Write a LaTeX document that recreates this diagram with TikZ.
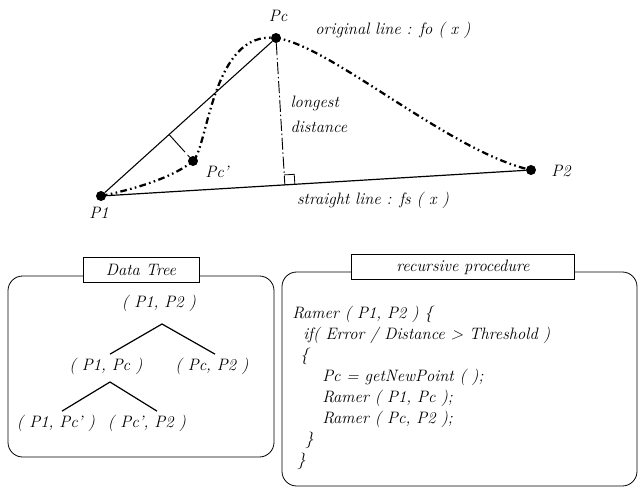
\documentclass[tikz,border=0pt]{standalone}
\usepackage{tikz}
\usetikzlibrary{positioning,calc}

\begin{document}
\begin{tikzpicture}[x=0.75pt, y=-0.75pt,
    every node/.style={font=\fontsize{12.4}{14}\selectfont\itshape},
    pt/.style={circle, fill=black, inner sep=0pt, minimum size=7.5pt},
    lbl/.style={inner sep=1pt},
    curve/.style={line width=1.7pt, dash pattern=on 5pt off 2.5pt on 1.2pt off 2.5pt on 1.2pt off 2.5pt},
    perp/.style={line width=0.7pt, dash pattern=on 9pt off 2pt on 1.2pt off 2pt},
    panel/.style={draw, line width=0.6pt, rounded corners=11pt},
    title/.style={draw, fill=white, line width=0.6pt, minimum height=19pt, inner sep=2pt},
    tnode/.style={inner sep=1pt},
    branch/.style={line width=0.9pt},
    code/.style={anchor=base west, inner sep=0pt},
]
\useasboundingbox (0,0) rectangle (640,490);

% curve points
\node[pt] (P1) at (101,196) {};
\node[pt] (Pc) at (276,38) {};
\node[pt] (P2) at (531,170) {};
\node[pt] (Pcc) at (193,161) {};

\node[lbl] (lP1) at (99,213) {P1};
\node[lbl] (lPc) at (278,16) {Pc};
\node[lbl] (lP2) at (561,171) {P2};
\node[lbl] (lPcc) at (217,172) {Pc'};

% straight lines
\draw[line width=0.9pt] (P1) -- (P2);
\draw[line width=0.8pt] (P1) -- (Pc);

% original line
\draw[curve] (P1.center) .. controls (140,188) and (175,176) .. (Pcc.center)
    .. controls (208,148) and (212,30) .. (Pc.center)
    .. controls (330,45) and (450,152) .. (P2.center);

% longest distance
\coordinate (F) at ($(P1)!(Pc)!(P2)$);
\draw[perp] (Pc) -- (F);
\coordinate (q1) at ($(F)!7.5pt!(P2)$);
\coordinate (q3) at ($(F)!7.5pt!(Pc)$);
\draw[line width=0.6pt] (q1) -- ($(q1)+(q3)-(F)$) -- (q3);

% distance of Pc'
\coordinate (F2) at ($(P1)!(Pcc)!(Pc)$);
\coordinate (m2) at ($(F2)!0.55!(Pcc)$);
\draw[line width=0.7pt] (F2) -- (m2);
\draw[line width=0.7pt, dashed] (m2) -- (Pcc);

\node[lbl] (orig) at (393,30) {original line : fo ( x )};
\node[lbl] (strt) at (373,200) {straight line : fs ( x )};
\node[lbl, anchor=west] (long) at (289,103) {longest};
\node[lbl, anchor=west] (dist) at (289,127) {distance};

% data tree
\draw[panel] (8,276) rectangle (274,457);
\node[title, minimum width=87pt] (ttree) at (141,270) {Data Tree};

\node[tnode] (t12) at (159,303) {( P1, P2 )};
\node[tnode] (t1c) at (106,366) {( P1, Pc )};
\node[tnode] (tc2) at (212,366) {( Pc, P2 )};
\node[tnode] (t1cc) at (56,423) {( P1, Pc' )};
\node[tnode] (tcc2) at (147,423) {( Pc', P2 )};

\coordinate (a1) at (162,324);
\coordinate (a2) at (110,382);
\draw[branch] ($(t1c.north)+(4,-2)$) -- (a1) -- ($(tc2.north)+(3,-2)$);
\draw[branch] ($(t1cc.north)+(6,-2)$) -- (a2) -- ($(tcc2.north)+(10,-2)$);

% recursive procedure
\draw[panel] (282,272) rectangle (637,486);
\node[title, minimum width=167pt] (tproc) at (463,267) {recursive procedure};

\node[code] (c1) at (292,318) {Ramer ( P1, P2 ) \{};
\node[code] (c2) at (303,339) {if( Error / Distance > Threshold )};
\node[code] (c3) at (300,360) {\{};
\node[code] (c4) at (322,381) {Pc = getNewPoint ( );};
\node[code] (c5) at (322,402) {Ramer ( P1, Pc );};
\node[code] (c6) at (322,423) {Ramer ( Pc, P2 );};
\node[code] (c7) at (305,444) {\}};
\node[code] (c8) at (297,465) {\}};
\end{tikzpicture}
\end{document}
